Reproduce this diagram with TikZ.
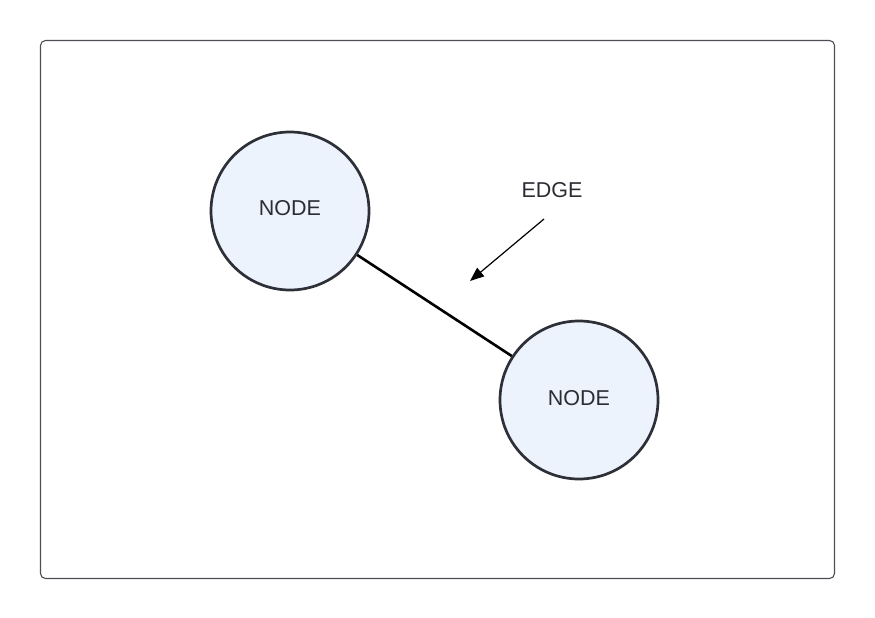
\documentclass[tikz,border=0pt]{standalone}
\usepackage{fontspec}
\setmainfont{Liberation Sans}
\usetikzlibrary{arrows.meta}
\definecolor{nodefill}{HTML}{EDF3FD}
\definecolor{stroke}{HTML}{2E3038}
\definecolor{txt}{HTML}{2B2D33}
\tikzset{
  circ/.style={circle, draw=stroke, fill=nodefill, line width=2.7pt, minimum size=158pt, inner sep=0pt, text=txt, font=\fontsize{21.5}{24}\selectfont},
  lbl/.style={text=txt, font=\fontsize{21.5}{24}\selectfont, inner sep=0pt},
  frame/.style={draw=stroke!85, line width=1.1pt, rounded corners=5pt},
}
\begin{document}
\begin{tikzpicture}[x=1pt,y=-1pt]
\useasboundingbox (0,0) rectangle (875,618);
\fill[white] (0,0) rectangle (875,618);
\draw[frame] (40.5,40.5) rectangle (834.5,578.5);
\node[circ] (n1) at (290,211) {\raisebox{6pt}{NODE}};
\node[circ] (n2) at (579,400) {\raisebox{5pt}{NODE}};
\draw[stroke, line width=2.6pt] (n1) -- (n2);
\node[lbl] (edge) at (552,190) {EDGE};
\coordinate (a0) at (544,219);
\coordinate (a1) at (470,281);
\draw[stroke, line width=1.2pt, -{Triangle[length=14pt,width=11pt]}] (a0) -- (a1);
\end{tikzpicture}
\end{document}
